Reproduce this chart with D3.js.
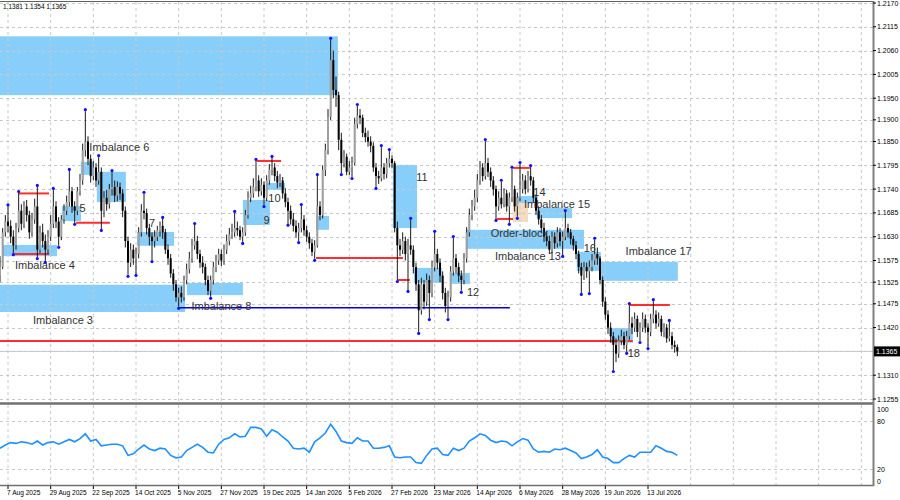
<!DOCTYPE html>
<html><head><meta charset="utf-8">
<script src="https://cdn.jsdelivr.net/npm/d3@7"></script>
<style>body{margin:0;background:#fff}svg{display:block}</style>
</head><body><svg id="c" width="900" height="500"></svg>
<script>
// ---------- data ----------
const headerText = "1.1381 1.1354 1.1365";
const lastPrice = 1.1365;
const firstOpen = 1.1540;
const closes = [
1.1560,1.1640,1.1665,1.1655,1.1630,1.1610,1.1650,1.1690,1.1660,1.1700,
1.1680,1.1640,1.1670,1.1700,1.1600,1.1640,1.1620,1.1600,1.1630,1.1660,
1.1700,1.1665,1.1630,1.1670,1.1690,1.1710,1.1735,1.1700,1.1690,1.1735,
1.1760,1.1830,1.1850,1.1810,1.1770,1.1790,1.1760,1.1780,1.1690,1.1720,
1.1705,1.1740,1.1745,1.1725,1.1745,1.1730,1.1690,1.1620,1.1570,1.1600,
1.1580,1.1590,1.1640,1.1690,1.1685,1.1650,1.1630,1.1620,1.1630,1.1645,
1.1655,1.1640,1.1600,1.1580,1.1545,1.1520,1.1490,1.1500,1.1490,1.1530,
1.1555,1.1580,1.1610,1.1620,1.1590,1.1570,1.1560,1.1530,1.1505,1.1530,
1.1560,1.1575,1.1590,1.1575,1.1600,1.1620,1.1635,1.1640,1.1650,1.1645,
1.1630,1.1640,1.1680,1.1720,1.1730,1.1745,1.1760,1.1735,1.1750,1.1720,
1.1760,1.1785,1.1790,1.1770,1.1755,1.1760,1.1730,1.1710,1.1690,1.1670,
1.1655,1.1640,1.1650,1.1670,1.1645,1.1630,1.1615,1.1595,1.1610,1.1700,
1.1680,1.1784,1.1830,1.1907,1.2038,1.1969,1.1957,1.1854,1.1800,1.1815,
1.1780,1.1790,1.1800,1.1890,1.1910,1.1905,1.1870,1.1860,1.1850,1.1840,
1.1790,1.1770,1.1765,1.1790,1.1775,1.1800,1.1810,1.1800,1.1650,1.1610,
1.1600,1.1620,1.1590,1.1610,1.1600,1.1560,1.1520,1.1460,1.1520,1.1480,
1.1530,1.1500,1.1560,1.1590,1.1570,1.1540,1.1500,1.1470,1.1490,1.1550,
1.1580,1.1560,1.1540,1.1530,1.1580,1.1640,1.1680,1.1700,1.1720,1.1760,
1.1790,1.1770,1.1800,1.1780,1.1760,1.1740,1.1700,1.1720,1.1705,1.1730,
1.1700,1.1720,1.1740,1.1700,1.1720,1.1740,1.1760,1.1740,1.1770,1.1760,
1.1720,1.1690,1.1670,1.1650,1.1630,1.1620,1.1600,1.1630,1.1615,1.1640,
1.1620,1.1630,1.1650,1.1640,1.1625,1.1610,1.1590,1.1560,1.1540,1.1560,
1.1550,1.1560,1.1575,1.1590,1.1580,1.1530,1.1480,1.1450,1.1420,1.1400,
1.1380,1.1360,1.1390,1.1400,1.1380,1.1400,1.1430,1.1420,1.1440,1.1410,
1.1420,1.1440,1.1420,1.1410,1.1440,1.1450,1.1430,1.1440,1.1410,1.1420,
1.1395,1.1400,1.1380,1.1375,1.1365];
const highs = [
1.1585,1.1650,1.1680,1.1700,1.1668,1.1645,1.1662,1.1731,1.1705,1.1712,
1.1715,1.1690,1.1685,1.1718,1.1745,1.1655,1.1660,1.1635,1.1645,1.1680,
1.1738,1.1712,1.1675,1.1680,1.1705,1.1725,1.1782,1.1745,1.1712,1.1745,
1.1775,1.1845,1.1920,1.1862,1.1820,1.1805,1.1800,1.1814,1.1790,1.1735,
1.1738,1.1752,1.1779,1.1760,1.1758,1.1755,1.1740,1.1700,1.1630,1.1615,
1.1612,1.1605,1.1652,1.1705,1.1729,1.1695,1.1660,1.1640,1.1645,1.1655,
1.1665,1.1671,1.1648,1.1612,1.1590,1.1555,1.1530,1.1512,1.1515,1.1540,
1.1568,1.1595,1.1625,1.1657,1.1632,1.1600,1.1585,1.1568,1.1540,1.1540,
1.1572,1.1588,1.1602,1.1600,1.1612,1.1635,1.1650,1.1660,1.1685,1.1665,
1.1655,1.1652,1.1692,1.1735,1.1748,1.1765,1.1805,1.1772,1.1765,1.1758,
1.1772,1.1798,1.1812,1.1800,1.1782,1.1775,1.1768,1.1742,1.1720,1.1702,
1.1685,1.1668,1.1662,1.1701,1.1680,1.1655,1.1640,1.1625,1.1622,1.1770,
1.1712,1.1795,1.1845,1.1925,1.2085,1.2060,1.2000,1.1965,1.1870,1.1830,
1.1822,1.1805,1.1815,1.1905,1.1932,1.1925,1.1912,1.1882,1.1875,1.1862,
1.1848,1.1800,1.1782,1.1837,1.1800,1.1812,1.1828,1.1818,1.1805,1.1665,
1.1625,1.1640,1.1630,1.1625,1.1669,1.1610,1.1570,1.1530,1.1535,1.1530,
1.1545,1.1540,1.1575,1.1639,1.1602,1.1580,1.1550,1.1512,1.1505,1.1562,
1.1627,1.1590,1.1570,1.1552,1.1592,1.1652,1.1695,1.1715,1.1738,1.1775,
1.1805,1.1800,1.1851,1.1812,1.1790,1.1770,1.1748,1.1735,1.1757,1.1742,
1.1738,1.1732,1.1787,1.1748,1.1732,1.1798,1.1775,1.1772,1.1782,1.1791,
1.1768,1.1728,1.1700,1.1680,1.1662,1.1642,1.1632,1.1642,1.1640,1.1652,
1.1650,1.1642,1.1687,1.1660,1.1648,1.1632,1.1620,1.1598,1.1570,1.1572,
1.1570,1.1575,1.1590,1.1623,1.1605,1.1585,1.1538,1.1490,1.1460,1.1432,
1.1410,1.1395,1.1402,1.1415,1.1410,1.1412,1.1472,1.1445,1.1455,1.1448,
1.1432,1.1455,1.1450,1.1430,1.1452,1.1481,1.1460,1.1455,1.1448,1.1430,
1.1428,1.1433,1.1410,1.1390,1.1381];
const lows = [
1.1525,1.1555,1.1630,1.1640,1.1615,1.1592,1.1600,1.1640,1.1645,1.1650,
1.1665,1.1625,1.1630,1.1660,1.1583,1.1592,1.1605,1.1574,1.1590,1.1620,
1.1650,1.1650,1.1609,1.1622,1.1660,1.1680,1.1700,1.1685,1.1662,1.1680,
1.1725,1.1750,1.1815,1.1795,1.1755,1.1760,1.1745,1.1750,1.1648,1.1675,
1.1690,1.1695,1.1725,1.1710,1.1712,1.1715,1.1675,1.1605,1.1542,1.1560,
1.1565,1.1544,1.1580,1.1630,1.1670,1.1635,1.1610,1.1576,1.1605,1.1620,
1.1630,1.1625,1.1590,1.1565,1.1535,1.1505,1.1480,1.1468,1.1478,1.1482,
1.1520,1.1545,1.1570,1.1600,1.1578,1.1558,1.1545,1.1518,1.1495,1.1491,
1.1520,1.1548,1.1565,1.1562,1.1565,1.1590,1.1610,1.1625,1.1630,1.1632,
1.1622,1.1618,1.1632,1.1672,1.1710,1.1720,1.1735,1.1722,1.1725,1.1703,
1.1712,1.1750,1.1772,1.1758,1.1742,1.1745,1.1718,1.1698,1.1660,1.1658,
1.1642,1.1628,1.1620,1.1640,1.1632,1.1618,1.1602,1.1585,1.1579,1.1605,
1.1668,1.1672,1.1770,1.1820,1.1900,1.1950,1.1930,1.1830,1.1777,1.1790,
1.1772,1.1772,1.1768,1.1795,1.1880,1.1890,1.1860,1.1848,1.1838,1.1825,
1.1780,1.1745,1.1752,1.1758,1.1762,1.1765,1.1790,1.1788,1.1640,1.1530,
1.1585,1.1590,1.1575,1.1507,1.1588,1.1545,1.1505,1.1410,1.1450,1.1462,
1.1470,1.1442,1.1490,1.1550,1.1555,1.1525,1.1485,1.1455,1.1442,1.1480,
1.1540,1.1545,1.1525,1.1505,1.1520,1.1570,1.1630,1.1668,1.1690,1.1710,
1.1750,1.1758,1.1762,1.1768,1.1745,1.1725,1.1671,1.1690,1.1695,1.1698,
1.1688,1.1662,1.1710,1.1688,1.1676,1.1712,1.1730,1.1728,1.1732,1.1748,
1.1710,1.1680,1.1658,1.1638,1.1618,1.1608,1.1590,1.1592,1.1602,1.1605,
1.1608,1.1588,1.1622,1.1628,1.1612,1.1598,1.1578,1.1545,1.1500,1.1530,
1.1535,1.1502,1.1550,1.1565,1.1565,1.1520,1.1468,1.1438,1.1405,1.1385,
1.1322,1.1340,1.1350,1.1380,1.1370,1.1364,1.1392,1.1405,1.1410,1.1398,
1.1389,1.1410,1.1408,1.1375,1.1400,1.1430,1.1418,1.1422,1.1400,1.1398,
1.1385,1.1388,1.1370,1.1362,1.1354];
const fractalHighs = [3,7,14,20,26,32,37,42,54,61,73,88,96,102,113,119,124,134,143,146,154,163,170,182,188,192,195,199,212,223,236,245,251];
const fractalLows = [5,14,17,22,28,38,48,51,57,67,79,91,99,108,112,118,128,132,141,149,153,157,161,168,173,186,191,194,211,218,221,230,235,240,243];
// RSI, one value every second bar (bar 0, 2, 4, ...)
const rsiValues = [
46,50,53,52,54,53,51,55,50,53, 54,51,54,57,54,58,64,55,57,49,
50,51,51,49,37,39,45,50,45,43, 46,45,37,34,35,43,47,51,47,41,
40,51,57,59,64,60,61,72,72,70, 61,69,66,60,55,46,45,46,41,54,
59,65,76,67,55,53,52,59,55,55, 46,46,47,49,35,34,35,35,28,27,
37,45,46,38,37,46,43,46,55,59, 64,62,56,53,55,54,49,54,58,56,
45,41,42,41,45,44,46,43,40,33, 35,38,44,35,33,28,28,33,37,35,
41,41,41,49,46,42,41,37];
const dateLabels = ["7 Aug 2025","29 Aug 2025","22 Sep 2025","14 Oct 2025","5 Nov 2025","27 Nov 2025","19 Dec 2025","14 Jan 2026","5 Feb 2026","27 Feb 2026","23 Mar 2026","14 Apr 2026","6 May 2026","28 May 2026","19 Jun 2026","13 Jul 2026"];
const priceTicks = [1.2170,1.2115,1.2060,1.2005,1.1950,1.1900,1.1850,1.1795,1.1740,1.1685,1.1630,1.1575,1.1525,1.1475,1.1420,1.1365,1.1310,1.1255];
const rsiTicks = [100,80,20,0];
const rsiGrid = [80,20];
// zones: [startBar, endBar, top, bottom, kind]
const zones = [
[-1,126.7,1.2093,1.1957,"imb"],
[-1,69.4,1.1519,1.1456,"imb"],
[1.1,21.4,1.1611,1.1585,"imb"],
[23.2,30.4,1.1701,1.1666,"imb"],
[30.3,34.9,1.1803,1.1773,"imb"],
[36.3,47.2,1.1780,1.1710,"imb"],
[51.4,65.3,1.1641,1.1609,"imb"],
[70.1,91.1,1.1523,1.1495,"imb"],
[91.1,101.2,1.1715,1.1657,"imb"],
[100.1,106.9,1.1754,1.1738,"imb"],
[118.5,123.4,1.1678,1.1646,"imb"],
[147.4,156.4,1.1796,1.1650,"imb"],
[155.2,165.7,1.1558,1.1523,"imb"],
[168.7,176.2,1.1546,1.1521,"imb"],
[174.7,219.0,1.1646,1.1602,"imb"],
[192.3,198.0,1.1722,1.1664,"ob"],
[194.2,201.7,1.1724,1.1708,"imb"],
[201.3,214.5,1.1697,1.1673,"imb"],
[216.3,225.3,1.1595,1.1551,"imb"],
[225.3,254.2,1.1572,1.1528,"imb"],
[228.7,237.3,1.1419,1.1385,"imb"]];
// levels: [startBar, endBar, price, kind]
const levels = [
[5,18.4,1.1590,"res"],[7,18.4,1.1730,"res"],[28.5,41.2,1.1662,"res"],
[96.4,105.4,1.1805,"res"],[118.5,151.1,1.1581,"res"],[149.2,153.7,1.1530,"res"],
[67.1,191.2,1.1466,"sup"],[186.4,192.4,1.1671,"res"],[192.4,198.7,1.1789,"res"],
[-1,237.3,1.1389,"res"],[236.2,251.2,1.1472,"res"]];
// labels: [text, bar, price]
const zoneLabels = [
["Imbalance 3",12.4,1.1438],["Imbalance 4",5.6,1.1565],["5",29.8,1.1696],
["Imbalance 6",33.5,1.1837],["7",55.9,1.1662],["Imbalance 8",71.8,1.1471],
["9",98.8,1.1669],["10",100.6,1.1720],["11",156.1,1.1768],["12",175.1,1.1503],
["Order-block",184.0,1.1639],["Imbalance 13",185.6,1.1586],["14",200.0,1.1733],
["Imbalance 15",196.5,1.1705],["16",218.9,1.1604],["Imbalance 17",234.6,1.1598],
["18",235.4,1.1362]];

// ---------- drawing ----------
const svg = d3.select("#c");
const R = 873;               // right edge of plot
const x = d3.scaleLinear([0,300],[0,800]);
const y = d3.scaleLinear([1.1255,1.2170],[399,3]);
const yr = d3.scaleLinear([0,100],[485,405]);
const font = "'Liberation Sans', Arial, sans-serif";

const defs = svg.append("defs");
defs.append("clipPath").attr("id","cm").append("rect").attr("x",0).attr("y",2).attr("width",R).attr("height",401);
defs.append("clipPath").attr("id","cr").append("rect").attr("x",0).attr("y",405).attr("width",R).attr("height",80);

svg.append("rect").attr("width",900).attr("height",500).attr("fill","#fff");
const main = svg.append("g").attr("clip-path","url(#cm)");

// zones
main.selectAll("rect.z").data(zones).join("rect")
  .attr("x",d=>x(d[0])).attr("width",d=>x(d[1])-x(d[0]))
  .attr("y",d=>y(d[2])).attr("height",d=>y(d[3])-y(d[2]))
  .attr("fill",d=>d[4]==="ob"?"#f3dcc0":"#87cefa");

// grid
const gridBars = d3.range(21).map(k=>3+16*k);
main.selectAll("line.gv").data(gridBars).join("line")
  .attr("x1",d=>x(d)).attr("x2",d=>x(d)).attr("y1",2).attr("y2",403)
  .attr("stroke","#c8c8c8").attr("stroke-dasharray","3,3").attr("stroke-width",1);
main.selectAll("line.gh").data(priceTicks).join("line")
  .attr("x1",0).attr("x2",R).attr("y1",d=>Math.round(y(d))+0.5).attr("y2",d=>Math.round(y(d))+0.5)
  .attr("stroke","#c8c8c8").attr("stroke-dasharray","3,3").attr("stroke-width",1);

// current price line
main.append("line").attr("x1",0).attr("x2",R).attr("y1",y(lastPrice)).attr("y2",y(lastPrice))
  .attr("stroke","#c8c8c8").attr("stroke-width",1);

// levels
main.selectAll("line.lv").data(levels).join("line")
  .attr("x1",d=>x(d[0])).attr("x2",d=>x(d[1])).attr("y1",d=>y(d[2])).attr("y2",d=>y(d[2]))
  .attr("stroke",d=>d[3]==="sup"?"#0000e6":"#ff2d2d").attr("stroke-width",d=>d[3]==="sup"?1.5:2);

// candles
const bars = closes.map((c,i)=>({i,o:i?closes[i-1]:firstOpen,c,h:highs[i],l:lows[i]}));
const cg = main.append("g");
cg.selectAll("line.w").data(bars).join("line")
  .attr("x1",d=>x(d.i)).attr("x2",d=>x(d.i)).attr("y1",d=>y(d.h)).attr("y2",d=>y(d.l))
  .attr("stroke","#1a1a1a").attr("stroke-width",1);
cg.selectAll("rect.b").data(bars).join("rect")
  .attr("x",d=>x(d.i)-1).attr("width",2)
  .attr("y",d=>y(Math.max(d.o,d.c))).attr("height",d=>Math.max(1,Math.abs(y(d.o)-y(d.c))))
  .attr("fill",d=>d.c>=d.o?"#a0a0a0":"#000");

// fractal dots
main.selectAll("circle.fh").data(fractalHighs).join("circle")
  .attr("cx",d=>x(d)).attr("cy",d=>y(highs[d])-1.5).attr("r",1.6).attr("fill","#1010ff");
main.selectAll("circle.fl").data(fractalLows).join("circle")
  .attr("cx",d=>x(d)).attr("cy",d=>y(lows[d])+1.5).attr("r",1.6).attr("fill","#1010ff");

// zone labels
main.selectAll("text.zl").data(zoneLabels).join("text")
  .attr("x",d=>x(d[1])).attr("y",d=>y(d[2])).attr("dominant-baseline","central")
  .attr("font-family",font).attr("font-size",11).attr("fill","#333").text(d=>d[0]);

// header
svg.append("text").attr("x",3).attr("y",9).attr("font-family",font).attr("font-size",6.5).attr("fill","#000").text(headerText);

// RSI panel
const rsiG = svg.append("g").attr("clip-path","url(#cr)");
rsiG.selectAll("line.gv").data(gridBars).join("line")
  .attr("x1",d=>x(d)).attr("x2",d=>x(d)).attr("y1",405).attr("y2",485)
  .attr("stroke","#c8c8c8").attr("stroke-dasharray","3,3");
rsiG.selectAll("line.gh").data(rsiGrid).join("line")
  .attr("x1",0).attr("x2",R).attr("y1",d=>Math.round(yr(d))+0.5).attr("y2",d=>Math.round(yr(d))+0.5)
  .attr("stroke","#c8c8c8").attr("stroke-dasharray","3,3");
rsiG.append("path").datum(rsiValues)
  .attr("d",d3.line().x((v,j)=>x(2*j)).y(v=>yr(v)))
  .attr("fill","none").attr("stroke","#1e90ff").attr("stroke-width",1.6);

// frame
svg.append("line").attr("x1",0).attr("x2",R).attr("y1",1.5).attr("y2",1.5).attr("stroke","#606060").attr("stroke-width",1);
svg.append("line").attr("x1",0).attr("x2",R+1).attr("y1",403.5).attr("y2",403.5).attr("stroke","#707070").attr("stroke-width",2.5);
svg.append("line").attr("x1",0).attr("x2",R+1).attr("y1",485.5).attr("y2",485.5).attr("stroke","#707070").attr("stroke-width",1.5);
svg.append("line").attr("x1",R+0.5).attr("x2",R+0.5).attr("y1",1).attr("y2",486).attr("stroke","#808080").attr("stroke-width",2);

// price axis labels
const pAxis = svg.append("g");
const pt = priceTicks.filter(p=>p!==lastPrice);
pAxis.selectAll("line").data(pt).join("line")
  .attr("x1",R).attr("x2",R+3).attr("y1",d=>y(d)).attr("y2",d=>y(d)).attr("stroke","#000");
pAxis.selectAll("text").data(pt).join("text")
  .attr("x",R+4).attr("y",d=>y(d)).attr("dominant-baseline","central")
  .attr("font-family",font).attr("font-size",7).attr("fill","#000").text(d=>d.toFixed(4));
svg.append("rect").attr("x",R+1).attr("y",y(lastPrice)-5).attr("width",27).attr("height",10).attr("fill","#000");
svg.append("text").attr("x",R+3).attr("y",y(lastPrice)).attr("dominant-baseline","central")
  .attr("font-family",font).attr("font-size",7).attr("fill","#fff").text(lastPrice.toFixed(4));

// RSI axis labels
svg.selectAll("text.rl").data(rsiTicks).join("text")
  .attr("x",R+4).attr("y",d=>Math.min(481,Math.max(409,yr(d)))).attr("dominant-baseline","central")
  .attr("font-family",font).attr("font-size",7).attr("fill","#000").text(d=>d);

// date labels
const dAxis = svg.append("g");
dAxis.selectAll("line").data(dateLabels).join("line")
  .attr("x1",(d,k)=>x(3+16*k)).attr("x2",(d,k)=>x(3+16*k)).attr("y1",486).attr("y2",489).attr("stroke","#000");
dAxis.selectAll("text").data(dateLabels).join("text")
  .attr("x",(d,k)=>x(3+16*k)-1).attr("y",495)
  .attr("font-family",font).attr("font-size",6.6).attr("fill","#000").text(d=>d);
</script></body></html>
